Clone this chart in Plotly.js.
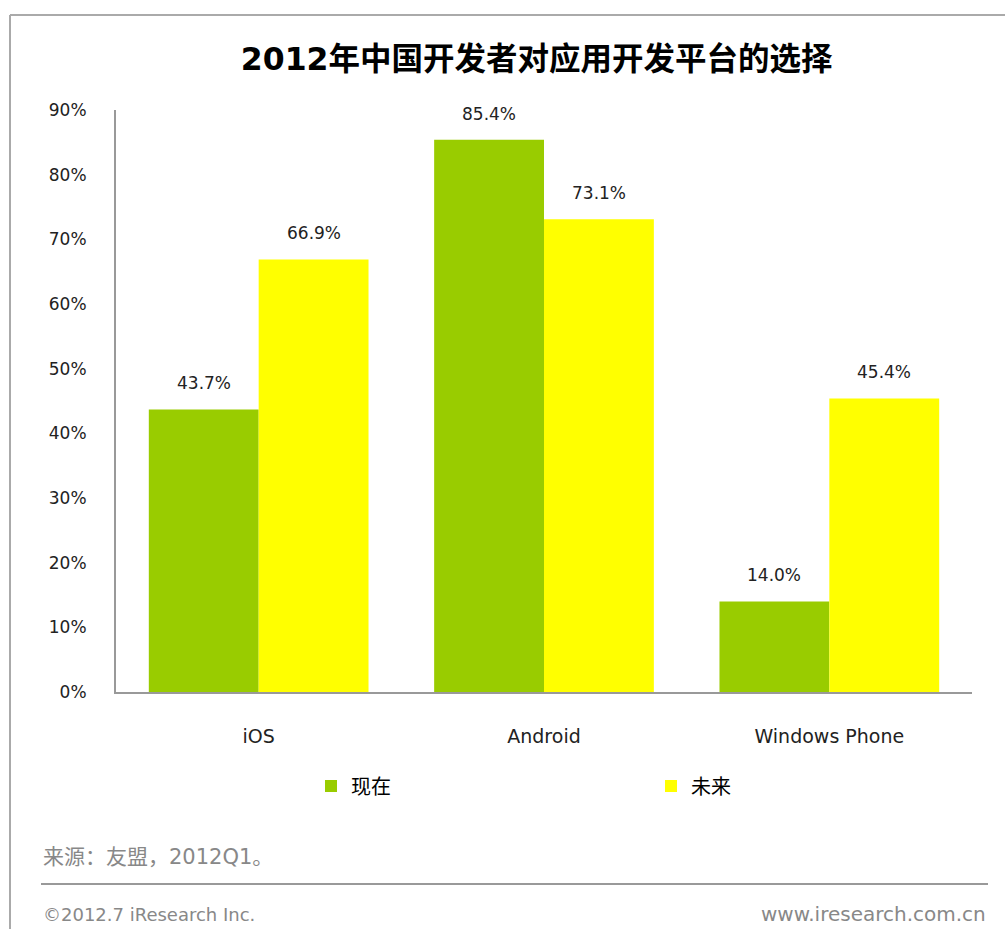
<!DOCTYPE html>
<html>
<head>
<meta charset="utf-8">
<script src="https://cdn.plot.ly/plotly-3.0.1.min.js"></script>
<style>
  body { margin: 0; background: #fff; }
  #chart { width: 1005px; height: 929px; }
</style>
</head>
<body>
<div id="chart"></div>
<script>
var platforms = ['iOS', 'Android', 'Windows Phone'];
var nowVals = [43.7, 85.4, 14.0];
var futureVals = [66.9, 73.1, 45.4];
var seriesNames = ['现在', '未来'];

var FONT = '"DejaVu Sans", "Noto Sans CJK SC", sans-serif';

// plot area in pixels
var L = 116, R = 33, T = 110, B = 237, W = 1005, H = 929;
var plotW = W - L - R, plotH = H - T - B;
function px2x(px) { return (px - L) / plotW; }
function px2y(py) { return (H - B - py) / plotH; }

var traceNow = {
  x: platforms,
  y: nowVals,
  name: seriesNames[0],
  type: 'bar',
  marker: { color: '#99cc00' },
  hoverinfo: 'none'
};

var traceFuture = {
  x: platforms,
  y: futureVals,
  name: seriesNames[1],
  type: 'bar',
  marker: { color: '#ffff00' },
  hoverinfo: 'none'
};

var data = [traceNow, traceFuture];

// value labels above the bars
var annos = [];
[nowVals, futureVals].forEach(function(vals, s) {
  vals.forEach(function(v, i) {
    annos.push({
      x: platforms[i], y: v, xref: 'x', yref: 'y',
      text: v.toFixed(1) + '%',
      showarrow: false,
      xshift: s === 0 ? -55 : 55,
      yanchor: 'bottom', yshift: 14,
      font: { family: FONT, size: 17, color: '#222' }
    });
  });
});

annos.push({
  xref: 'paper', yref: 'paper', x: px2x(41), y: px2y(857),
  xanchor: 'left', yanchor: 'middle', showarrow: false,
  text: '来源：友盟，2012Q1。',
  font: { family: FONT, size: 21, color: '#888' }
});
annos.push({
  xref: 'paper', yref: 'paper', x: px2x(41), y: px2y(914),
  xanchor: 'left', yanchor: 'middle', showarrow: false,
  text: '©2012.7 iResearch Inc.',
  font: { family: FONT, size: 18, color: '#888' }
});
annos.push({
  xref: 'paper', yref: 'paper', x: px2x(988), y: px2y(914),
  xanchor: 'right', yanchor: 'middle', showarrow: false,
  text: 'www.iresearch.com.cn',
  font: { family: FONT, size: 20, color: '#888' }
});

var shapes = [
  // outer frame
  { type: 'line', xref: 'paper', yref: 'paper', x0: px2x(10), x1: px2x(1010), y0: px2y(15), y1: px2y(15),
    line: { color: '#aaa', width: 2 } },
  { type: 'line', xref: 'paper', yref: 'paper', x0: px2x(10), x1: px2x(10), y0: px2y(15), y1: px2y(935),
    line: { color: '#aaa', width: 2 } },
  // footer rule
  { type: 'line', xref: 'paper', yref: 'paper', x0: px2x(41), x1: px2x(988), y0: px2y(884), y1: px2y(884),
    line: { color: '#999', width: 2 } }
];

var layout = {
  width: W,
  height: H,
  autosize: false,
  margin: { l: L, r: R, t: T, b: B, pad: 0 },
  paper_bgcolor: '#fff',
  plot_bgcolor: '#fff',
  title: {
    text: '<b>2012年中国开发者对应用开发平台的选择</b>',
    font: { family: FONT, size: 31.5, color: '#000' },
    x: 0.534, xanchor: 'center',
    y: 1 - 59 / H, yanchor: 'middle'
  },
  barmode: 'group',
  bargap: 0.23,
  bargroupgap: 0,
  xaxis: {
    type: 'category',
    showline: true, linecolor: '#999', linewidth: 2,
    ticks: '', ticklabelstandoff: 26,
    tickfont: { family: FONT, size: 19, color: '#222' },
    showgrid: false, zeroline: false, fixedrange: true
  },
  yaxis: {
    range: [0, 90],
    dtick: 10,
    ticksuffix: '%',
    showline: true, linecolor: '#999', linewidth: 2,
    ticks: '', ticklabelstandoff: 24,
    tickfont: { family: FONT, size: 17, color: '#222' },
    showgrid: false, zeroline: false, fixedrange: true
  },
  showlegend: true,
  legend: {
    orientation: 'h',
    x: px2x(311), xanchor: 'left',
    y: px2y(786), yanchor: 'middle',
    entrywidth: 295, entrywidthmode: 'pixels',
    font: { family: FONT, size: 20, color: '#000' },
    bgcolor: 'rgba(0,0,0,0)'
  },
  annotations: annos,
  shapes: shapes
};

var config = { staticPlot: true };

Plotly.newPlot('chart', data, layout, config);
</script>
</body>
</html>
